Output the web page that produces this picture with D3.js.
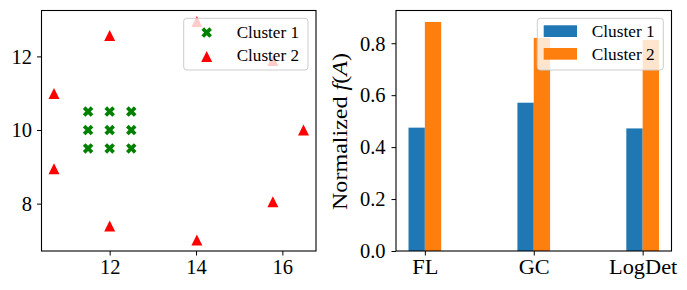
<!DOCTYPE html>
<html><head><meta charset="utf-8">
<script src="https://cdn.jsdelivr.net/npm/d3@7/dist/d3.min.js"></script>
<style>body{margin:0;background:#fff}svg{display:block}text{font-family:"Liberation Serif",serif;fill:#000}</style>
</head><body>
<svg id="c" width="687" height="290"></svg>
<script>
// ---- data ----
const cluster1X = [11.5, 12, 12.5, 11.5, 12, 12.5, 11.5, 12, 12.5];
const cluster1Y = [10.5, 10.5, 10.5, 10, 10, 10, 9.5, 9.5, 9.5];
const cluster2X = [12, 10.71, 10.71, 12, 14.02, 15.78, 16.49, 15.78, 14.02];
const cluster2Y = [12.57, 10.99, 8.95, 7.39, 7.01, 8.05, 10.0, 11.89, 12.95];
const scatterXTicks = [12, 14, 16];
const scatterYTicks = [8, 10, 12];
const categories = ["FL", "GC", "LogDet"];
const barCluster1 = [0.475, 0.571, 0.472];
const barCluster2 = [0.882, 0.8205, 0.813];
const barYTicks = [0, 0.2, 0.4, 0.6, 0.8];
const seriesNames = ["Cluster 1", "Cluster 2"];

const svg = d3.select("#c");
const TICKFS = 20.5, LEGFS = 16.5;

// ---------- left scatter ----------
const L = {x0: 41.5, x1: 316, y0: 10.5, y1: 251};
const allX = cluster1X.concat(cluster2X), allY = cluster1Y.concat(cluster2Y);
const xr = d3.extent(allX), yr = d3.extent(allY);
const mx = (xr[1]-xr[0])*0.05, my = (yr[1]-yr[0])*0.05;
const xs = d3.scaleLinear().domain([xr[0]-mx, xr[1]+mx]).range([L.x0, L.x1]);
const ys = d3.scaleLinear().domain([yr[0]-my, yr[1]+my]).range([L.y1, L.y0]);

const xPath = (s) => {
  const v = [[0.25,0],[0.5,0.25],[0.75,0],[1,0.25],[0.75,0.5],[1,0.75],[0.75,1],[0.5,0.75],[0.25,1],[0,0.75],[0.25,0.5],[0,0.25]];
  return "M" + v.map(p => [(p[0]-0.5)*s, (p[1]-0.5)*s].join(",")).join("L") + "Z";
};
const triPath = (h) => `M0,${-h}L${-h},${h}L${h},${h}Z`;

const gL = svg.append("g");
gL.selectAll(".c1").data(cluster1X).join("path")
  .attr("d", xPath(10.5)).attr("fill", "green")
  .attr("transform", (d,i) => `translate(${xs(d)},${ys(cluster1Y[i])})`);
gL.selectAll(".c2").data(cluster2X).join("path")
  .attr("d", triPath(5.5)).attr("fill", "red")
  .attr("transform", (d,i) => `translate(${xs(d)},${ys(cluster2Y[i])})`);

const axXL = gL.append("g").attr("transform", `translate(0,${L.y1})`)
  .call(d3.axisBottom(xs).tickValues(scatterXTicks).tickFormat(d3.format("d")).tickSize(4.5).tickPadding(4).tickSizeOuter(0));
const axYL = gL.append("g").attr("transform", `translate(${L.x0},0)`)
  .call(d3.axisLeft(ys).tickValues(scatterYTicks).tickFormat(d3.format("d")).tickSize(4.5).tickPadding(5).tickSizeOuter(0));
[axXL, axYL].forEach(a => {
  a.select(".domain").remove();
  a.selectAll("text").style("font-family", '"Liberation Serif",serif').style("font-size", TICKFS+"px").attr("fill", "#000");
  a.selectAll("line").attr("stroke", "#000").attr("stroke-width", 1);
});
axYL.selectAll("text").attr("dy", "0.33em");
gL.append("rect").attr("x", L.x0).attr("y", L.y0).attr("width", L.x1-L.x0).attr("height", L.y1-L.y0)
  .attr("fill", "none").attr("stroke", "#000").attr("stroke-width", 1.1);

// legend left
const lgL = gL.append("g");
lgL.append("rect").attr("x", 183.7).attr("y", 18.3).attr("width", 124.3).attr("height", 51.7).attr("rx", 3)
  .attr("fill", "#fff").attr("fill-opacity", 0.8).attr("stroke", "#cccccc").attr("stroke-width", 1);
lgL.append("path").attr("d", xPath(10.5)).attr("fill", "green").attr("transform", "translate(206.7,32.5)");
lgL.append("path").attr("d", triPath(5.5)).attr("fill", "red").attr("transform", "translate(206.7,56.5)");
seriesNames.forEach((n,i) => lgL.append("text").attr("x", 236.7).attr("y", 37.5 + i*23.5)
  .style("font-size", LEGFS+"px").attr("textLength", 62.3).attr("lengthAdjust", "spacingAndGlyphs").text(n));

// ---------- right bars ----------
const R = {x0: 396, x1: 671.5, y0: 10.5, y1: 251};
const bw = 0.15;
const bx = d3.scaleLinear().domain([-bw - 0.115, categories.length-1 + bw + 0.115]).range([R.x0, R.x1]);
const ymax = d3.max(barCluster1.concat(barCluster2)) * 1.05;
const by = d3.scaleLinear().domain([0, ymax]).range([R.y1, R.y0]);
const gR = svg.append("g");
const colors = ["#1f77b4", "#ff7f0e"];
[barCluster1, barCluster2].forEach((vals, s) => {
  gR.selectAll(".b"+s).data(vals).join("rect")
    .attr("x", (d,i) => bx(i - bw + s*bw)).attr("width", (d,i) => bx(i) - bx(i-bw))
    .attr("y", d => by(d)).attr("height", d => by(0) - by(d)).attr("fill", colors[s]);
});
const axXR = gR.append("g").attr("transform", `translate(0,${R.y1})`)
  .call(d3.axisBottom(bx).tickValues(d3.range(categories.length)).tickFormat(i => categories[i]).tickSize(4.5).tickPadding(4).tickSizeOuter(0));
const axYR = gR.append("g").attr("transform", `translate(${R.x0},0)`)
  .call(d3.axisLeft(by).tickValues(barYTicks).tickFormat(d3.format(".1f")).tickSize(4.5).tickPadding(6).tickSizeOuter(0));
[axXR, axYR].forEach(a => {
  a.select(".domain").remove();
  a.selectAll("text").style("font-family", '"Liberation Serif",serif').style("font-size", TICKFS+"px").attr("fill", "#000");
  a.selectAll("line").attr("stroke", "#000").attr("stroke-width", 1);
});
axYR.selectAll("text").attr("dy", "0.33em");
axXR.selectAll("text").each(function() {
  const w = this.getComputedTextLength();
  d3.select(this).attr("textLength", w * 1.09).attr("lengthAdjust", "spacingAndGlyphs");
});
gR.append("rect").attr("x", R.x0).attr("y", R.y0).attr("width", R.x1-R.x0).attr("height", R.y1-R.y0)
  .attr("fill", "none").attr("stroke", "#000").attr("stroke-width", 1.1);

// y label
const yl = gR.append("text").attr("transform", "translate(347,131.5) rotate(-90)")
  .attr("text-anchor", "middle").style("font-size", "20.5px")
  .attr("textLength", 157).attr("lengthAdjust", "spacingAndGlyphs");
yl.append("tspan").text("Normalized ");
yl.append("tspan").style("font-style", "italic").text("f");
yl.append("tspan").text("(");
yl.append("tspan").style("font-style", "italic").text("A");
yl.append("tspan").text(")");

// legend right
const lgR = gR.append("g");
lgR.append("rect").attr("x", 537.3).attr("y", 18.3).attr("width", 126).attr("height", 51.7).attr("rx", 3)
  .attr("fill", "#fff").attr("fill-opacity", 0.8).attr("stroke", "#cccccc").attr("stroke-width", 1);
seriesNames.forEach((n,i) => {
  lgR.append("rect").attr("x", 543.7).attr("y", 25.3 + i*22.7).attr("width", 33.3).attr("height", 11.7).attr("fill", colors[i]);
  lgR.append("text").attr("x", 591.7).attr("y", 36.5 + i*23).style("font-size", LEGFS+"px")
    .attr("textLength", 63).attr("lengthAdjust", "spacingAndGlyphs").text(n);
});
</script>
</body></html>
